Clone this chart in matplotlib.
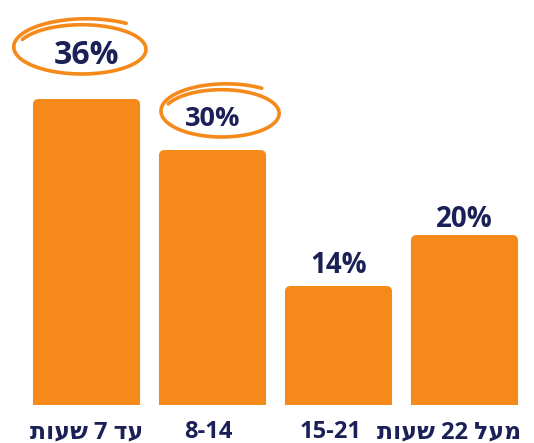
import numpy as np
import matplotlib
matplotlib.use("Agg")
import matplotlib.pyplot as plt
from matplotlib.patches import FancyBboxPatch

plt.rcParams['font.family'] = ['Open Sans', 'DejaVu Sans']

# data
categories = ["עד 7 שעות", "8-14", "15-21", "מעל 22 שעות"]
values = [36, 30, 14, 20]

ORANGE = '#F58A1A'
NAVY = '#1B2157'


def visual(s):
    # matplotlib has no bidi: put hebrew words in visual (LTR) order
    if not any('\u0590' <= ch <= '\u05ff' for ch in s):
        return s
    out = []
    for w in reversed(s.split(' ')):
        if any('\u0590' <= ch <= '\u05ff' for ch in w):
            out.append(w[::-1])
        else:
            out.append(w)
    return ' '.join(out)


W, H = 534, 443
fig = plt.figure(figsize=(W / 100, H / 100), dpi=100)
ax = fig.add_axes([23.5 / W, 38 / H, 504 / W, 306 / H])
ax.set_xlim(-0.5, 3.5)
ax.set_ylim(0, 36)
ax.axis('off')

x = np.arange(len(values))
bars = ax.bar(x, values, width=0.85, color=ORANGE)

# rounded tops
for b in bars:
    b.set_visible(False)
    p = FancyBboxPatch((b.get_x(), b.get_y() - 2), b.get_width(), b.get_height() + 2,
                       boxstyle="round,pad=0,rounding_size=0.045",
                       mutation_aspect=(36 / 306) / (4 / 504),
                       fc=ORANGE, ec='none', clip_on=True)
    ax.add_patch(p)

# value labels (center offset above bar top in px, font size)
lift = [48, 34, 24, 19]
vsize = [23, 19.5, 20, 20]
for i, v in enumerate(values):
    ax.annotate(f"{v}%", (x[i], v), xytext=(0, lift[i] * 0.72),
                textcoords='offset points', ha='center', va='center_baseline',
                fontsize=vsize[i], fontweight='bold', color=NAVY)

# hand drawn loops around the top two values: (dx, dy from bar top, rx, ry) px
loops = {0: (-8, 49, 67, 26), 1: (6, 36, 60, 25)}
for i, (dx, dy, rx, ry) in loops.items():
    cx, cy = ax.transData.transform((x[i], values[i]))
    cx += dx
    cy += dy
    t = np.linspace(np.pi - 0.45, 0.95 - 2 * np.pi, 400)
    f = (t[0] - t) / (t[0] - t[-1])
    k = 0.93 + 0.14 * f
    px = cx + rx * k * np.cos(t) + 6 * f
    py = cy + ry * k * np.sin(t) + 4 * f
    pts = fig.transFigure.inverted().transform(np.column_stack([px, py]))
    fig.add_artist(plt.Line2D(pts[:, 0], pts[:, 1], color=ORANGE, lw=2.6,
                              solid_capstyle='round', transform=fig.transFigure))

# category labels (they drift left a little in the original)
shift = [0, -4, -8, -15]
for i, c in enumerate(categories):
    ax.annotate(visual(c), (x[i], 0), xytext=(shift[i] * 0.72, -24 * 0.72),
                textcoords='offset points', ha='center', va='center_baseline',
                fontsize=17, fontweight='bold', color=NAVY, annotation_clip=False)

fig.savefig('out.png', dpi=100)
